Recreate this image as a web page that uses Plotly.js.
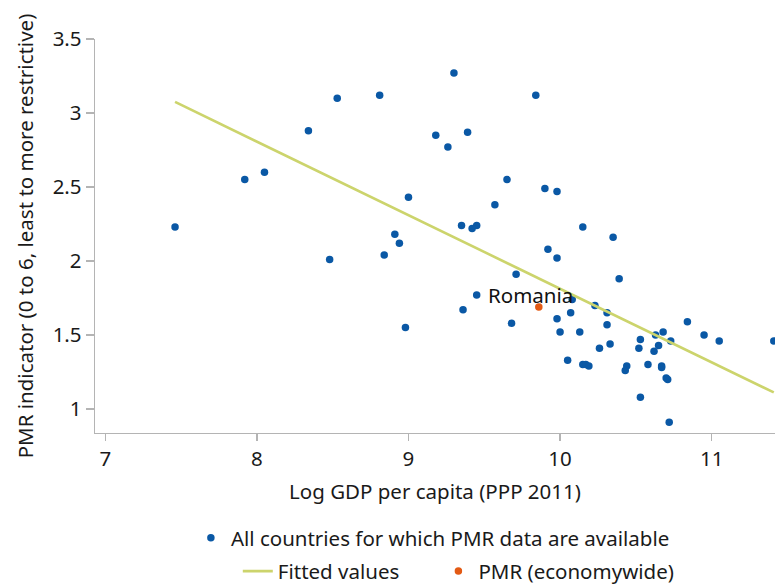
<!DOCTYPE html>
<html>
<head>
<meta charset="utf-8">
<script src="https://cdn.plot.ly/plotly-3.0.1.min.js"></script>
<style>
  html, body { margin: 0; padding: 0; background: #fff; }
  #chart { width: 775px; height: 585px; }
</style>
</head>
<body>
<div id="chart"></div>
<script>
// Log GDP per capita (PPP 2011) for all countries with PMR data
const countriesX = [7.46, 7.92, 8.05, 8.34, 8.53, 8.48, 8.81, 9.30, 9.84, 9.18,
  9.39, 9.26, 9.65, 9.90, 9.98, 9.00, 9.57, 9.35, 9.45, 9.42,
  10.15, 8.91, 8.94, 8.84, 9.92, 9.98, 9.71, 9.45, 9.36, 9.98,
  10.07, 9.68, 10.00, 8.98, 10.05, 10.35, 10.39, 10.08, 10.23, 10.31,
  10.31, 10.84, 10.13, 10.95, 11.05, 11.41, 10.68, 10.63, 10.73, 10.53,
  10.65, 10.52, 10.33, 10.26, 10.62, 10.15, 10.17, 10.19, 10.44, 10.43,
  10.58, 10.67, 10.67, 10.70, 10.71, 10.53, 10.72];
// PMR indicator values
const countriesY = [2.23, 2.55, 2.60, 2.88, 3.10, 2.01, 3.12, 3.27, 3.12, 2.85,
  2.87, 2.77, 2.55, 2.49, 2.47, 2.43, 2.38, 2.24, 2.24, 2.22,
  2.23, 2.18, 2.12, 2.04, 2.08, 2.02, 1.91, 1.77, 1.67, 1.61,
  1.65, 1.58, 1.52, 1.55, 1.33, 2.16, 1.88, 1.74, 1.70, 1.65,
  1.57, 1.59, 1.52, 1.50, 1.46, 1.46, 1.52, 1.50, 1.46, 1.47,
  1.43, 1.41, 1.44, 1.41, 1.39, 1.30, 1.30, 1.29, 1.29, 1.26,
  1.30, 1.29, 1.28, 1.21, 1.20, 1.08, 0.91];

// Fitted values (endpoints of the regression line)
const fittedX = [7.46, 11.41];
const fittedY = [3.075, 1.112];

// Romania
const romaniaX = [9.86];
const romaniaY = [1.69];
const romaniaLabel = ["Romania"];

// Axis ticks
const xTicks = [7, 8, 9, 10, 11];
const yTicks = [1, 1.5, 2, 2.5, 3, 3.5];

const FONT = "Noto Sans, Open Sans, sans-serif";
const FS = 20.5;
const BLUE = "#0a58a5";
const ORANGE = "#e35a14";
const LINE = "#ccd46c";
const AXIS = "#b4b4b4";

const traces = [
  {
    x: countriesX, y: countriesY, type: "scatter", mode: "markers",
    name: "All countries for which PMR data are available",
    marker: { color: BLUE, size: 7.5 },
    legend: "legend", cliponaxis: false
  },
  {
    x: fittedX, y: fittedY, type: "scatter", mode: "lines",
    name: "Fitted values",
    line: { color: LINE, width: 2.6 },
    legend: "legend2"
  },
  {
    x: romaniaX, y: romaniaY, type: "scatter", mode: "markers",
    name: "PMR (economywide)",
    marker: { color: ORANGE, size: 7.5 },
    legend: "legend3"
  }
];

const legendBase = {
  orientation: "h", bgcolor: "rgba(0,0,0,0)", borderwidth: 0,
  font: { family: FONT, size: FS, color: "#1a1a1a" },
  xanchor: "left", yanchor: "middle", xref: "paper", yref: "paper"
};

const layout = {
  width: 775, height: 585,
  margin: { l: 95, r: 0, t: 39, b: 152, pad: 0, autoexpand: false },
  paper_bgcolor: "#fff", plot_bgcolor: "#fff",
  font: { family: FONT, size: FS, color: "#1a1a1a" },
  showlegend: true,
  xaxis: {
    range: [6.932, 11.418], tickvals: xTicks, ticktext: xTicks.map(String),
    showgrid: false, zeroline: false,
    showline: true, linecolor: AXIS, linewidth: 1.3,
    ticks: "outside", ticklen: 7, tickcolor: AXIS, tickwidth: 1.3,
    tickfont: { family: FONT, size: FS, color: "#1a1a1a" },
    title: { text: "Log GDP per capita (PPP 2011)", font: { family: FONT, size: FS, color: "#1a1a1a" }, standoff: 13 },
    automargin: false
  },
  yaxis: {
    range: [0.838, 3.5], tickvals: yTicks, ticktext: ["1", "1.5", "2", "2.5", "3", "3.5"],
    showgrid: false, zeroline: false,
    showline: true, linecolor: AXIS, linewidth: 1.3,
    ticks: "outside", ticklen: 8, tickcolor: AXIS, tickwidth: 1.3,
    tickfont: { family: FONT, size: FS, color: "#1a1a1a" },
    title: { text: "PMR indicator (0 to 6, least to more restrictive)", font: { family: FONT, size: FS, color: "#1a1a1a" }, standoff: 13 },
    automargin: false
  },
  legend: Object.assign({}, legendBase, { x: 0.141, y: -0.266 }),
  legend2: Object.assign({}, legendBase, { x: 0.21, y: -0.351 }),
  legend3: Object.assign({}, legendBase, { x: 0.505, y: -0.351 }),
  annotations: [{
    x: romaniaX[0], y: romaniaY[0], xref: "x", yref: "y",
    text: romaniaLabel[0], showarrow: false,
    xanchor: "center", yanchor: "bottom", xshift: -8, yshift: -4,
    font: { family: FONT, size: FS, color: "#111" }
  }]
};

Plotly.newPlot("chart", traces, layout, { staticPlot: true, displayModeBar: false });
</script>
</body>
</html>
